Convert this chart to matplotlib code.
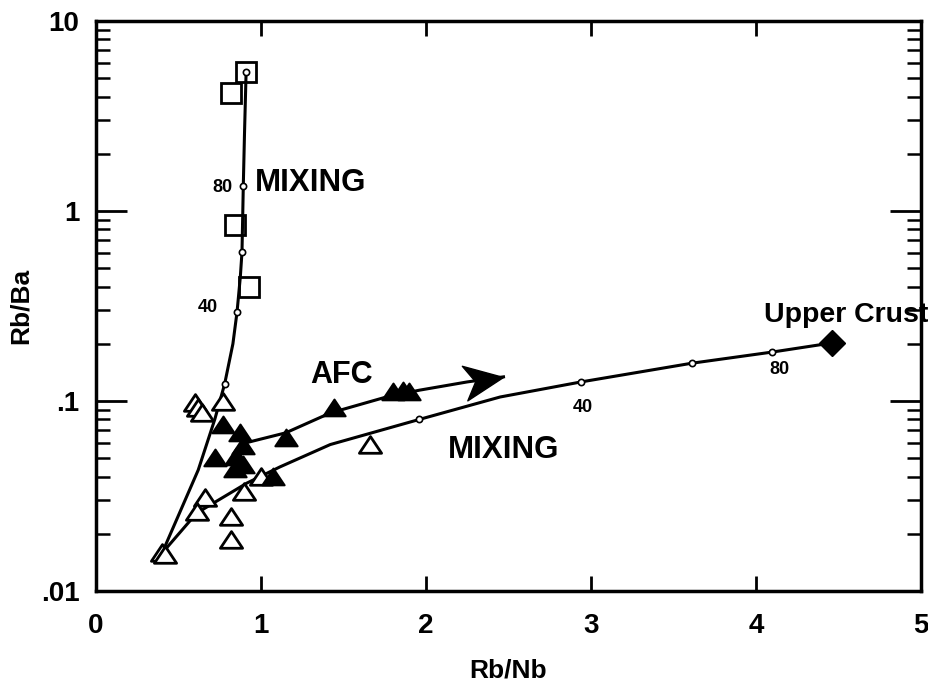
import numpy as np
import matplotlib
matplotlib.use("Agg")
import matplotlib.pyplot as plt
from matplotlib.path import Path
from matplotlib.markers import MarkerStyle
from matplotlib.transforms import Affine2D

plt.rcParams['font.family'] = ['Liberation Sans', 'DejaVu Sans']
plt.rcParams['font.weight'] = 'bold'

# mixing curve towards the high Rb/Ba end-member (steep one)
steep_x = [0.40, 0.50, 0.62, 0.72, 0.78, 0.83, 0.855, 0.875, 0.885, 0.89, 0.893, 0.90, 0.91]
steep_y = [0.0158, 0.025, 0.0434, 0.08, 0.123, 0.2, 0.294, 0.45, 0.608, 1.0, 1.36, 2.5, 5.4]
steep_tick_x = [0.78, 0.854, 0.885, 0.893, 0.91]
steep_tick_y = [0.123, 0.294, 0.608, 1.36, 5.4]

# mixing curve towards upper crust
low_x = [0.40, 0.61, 0.915, 1.115, 1.42, 1.96, 2.45, 2.94, 3.61, 4.10, 4.46]
low_y = [0.0158, 0.0257, 0.037, 0.045, 0.059, 0.080, 0.105, 0.126, 0.158, 0.181, 0.202]
low_tick_x = [1.96, 2.94, 3.61, 4.10]
low_tick_y = [0.080, 0.126, 0.158, 0.181]

# AFC trend
afc_x = [0.90, 1.15, 1.42, 1.76, 1.96, 2.25, 2.47]
afc_y = [0.060, 0.068, 0.0865, 0.105, 0.114, 0.126, 0.134]

# samples
sq_x = [0.91, 0.82, 0.84, 0.93]
sq_y = [5.4, 4.2, 0.84, 0.40]

otri_x = [0.40, 0.42, 0.60, 0.62, 0.64, 0.77, 0.66, 0.61, 0.82, 0.82, 0.90, 1.00, 1.66]
otri_y = [0.0158, 0.0155, 0.098, 0.092, 0.087, 0.099, 0.031, 0.0262, 0.0245, 0.0186, 0.0332, 0.0398, 0.059]

ftri_x = [0.77, 0.72, 0.87, 0.89, 0.85, 0.84, 0.89, 1.15, 1.07, 1.44, 1.80, 1.86, 1.90]
ftri_y = [0.075, 0.050, 0.068, 0.058, 0.051, 0.044, 0.046, 0.064, 0.040, 0.092, 0.111, 0.113, 0.111]

crust_x = [4.46]
crust_y = [0.202]

xticks = [0, 1, 2, 3, 4, 5]
yticks = [0.01, 0.1, 1, 10]
yticklabels = [".01", ".1", "1", "10"]

tri = Path([(-1, -0.7), (1, -0.7), (0, 0.8), (-1, -0.7)],
           [Path.MOVETO, Path.LINETO, Path.LINETO, Path.CLOSEPOLY])
# arrow head with its tip at the origin
head = Path([(0, 0), (-2, 0.9), (-1.45, 0), (-2, -0.9), (0, 0)],
            [Path.MOVETO, Path.LINETO, Path.LINETO, Path.LINETO, Path.CLOSEPOLY])

fig = plt.figure(figsize=(9.29, 6.97), dpi=100)
ax = fig.add_axes([0.1033, 0.152, 0.888, 0.818])
ax.set_yscale('log')
ax.set_xlim(0, 5)
ax.set_ylim(0.01, 10)

lw = 2.2
ax.plot(steep_x, steep_y, color='k', lw=lw, zorder=2)
ax.plot(low_x, low_y, color='k', lw=lw, zorder=2)
ax.plot(afc_x, afc_y, color='k', lw=lw, zorder=2)
ax.plot(afc_x[-1:], afc_y[-1:], ls='none', color='k',
        marker=MarkerStyle(head, transform=Affine2D().rotate_deg(9)), ms=56, zorder=3)

ax.plot(steep_tick_x, steep_tick_y, ls='none', marker='o', ms=4.5, mfc='white', mec='k', mew=1.2, zorder=4)
ax.plot(low_tick_x, low_tick_y, ls='none', marker='o', ms=4.5, mfc='white', mec='k', mew=1.2, zorder=4)

ax.plot(sq_x, sq_y, ls='none', marker='s', ms=14, mfc='none', mec='k', mew=2, zorder=3)
ax.plot(otri_x, otri_y, ls='none', marker=tri, ms=16, mfc='white', mec='k', mew=2, zorder=3)
ax.plot(ftri_x, ftri_y, ls='none', marker=tri, ms=16, mfc='k', mec='k', mew=1.5, zorder=3)
ax.plot(crust_x, crust_y, ls='none', marker='D', ms=13, mfc='k', mec='k', zorder=3)

ax.text(0.964, 1.41, "MIXING", fontsize=22.5, fontweight='bold', va='center', ha='left')
ax.text(0.83, 1.33, "80", fontsize=13, fontweight='bold', va='center', ha='right')
ax.text(0.74, 0.31, "40", fontsize=13, fontweight='bold', va='center', ha='right')
ax.text(1.30, 0.137, "AFC", fontsize=22, fontweight='bold', va='center', ha='left')
ax.text(2.13, 0.0555, "MIXING", fontsize=22.5, fontweight='bold', va='center', ha='left')
ax.text(2.89, 0.0925, "40", fontsize=13, fontweight='bold', va='center', ha='left')
ax.text(4.08, 0.1456, "80", fontsize=13, fontweight='bold', va='center', ha='left')
ax.text(4.05, 0.283, "Upper Crust", fontsize=20.5, fontweight='bold', va='center', ha='left', clip_on=False)

ax.set_xticks(xticks)
ax.set_xticklabels([str(v) for v in xticks])
ax.set_yticks(yticks)
ax.set_yticklabels(yticklabels)
ax.tick_params(axis='both', which='major', direction='in', top=True, right=True,
               width=2, labelsize=20)
ax.tick_params(axis='x', which='major', length=11, pad=16)
ax.tick_params(axis='y', which='major', length=22, pad=12)
ax.tick_params(axis='y', which='minor', direction='in', right=True, length=10, width=1.8)
ax.tick_params(axis='x', which='minor', bottom=False, top=False)
for lab in ax.get_xticklabels() + ax.get_yticklabels():
  lab.set_fontweight('bold')
for s in ax.spines.values():
  s.set_linewidth(2.5)

ax.set_xlabel("Rb/Nb", fontsize=19, fontweight='bold', labelpad=14)
ax.set_ylabel("Rb/Ba", fontsize=19, fontweight='bold', labelpad=6)

plt.savefig("out.png", dpi=100)
plt.close(fig)
